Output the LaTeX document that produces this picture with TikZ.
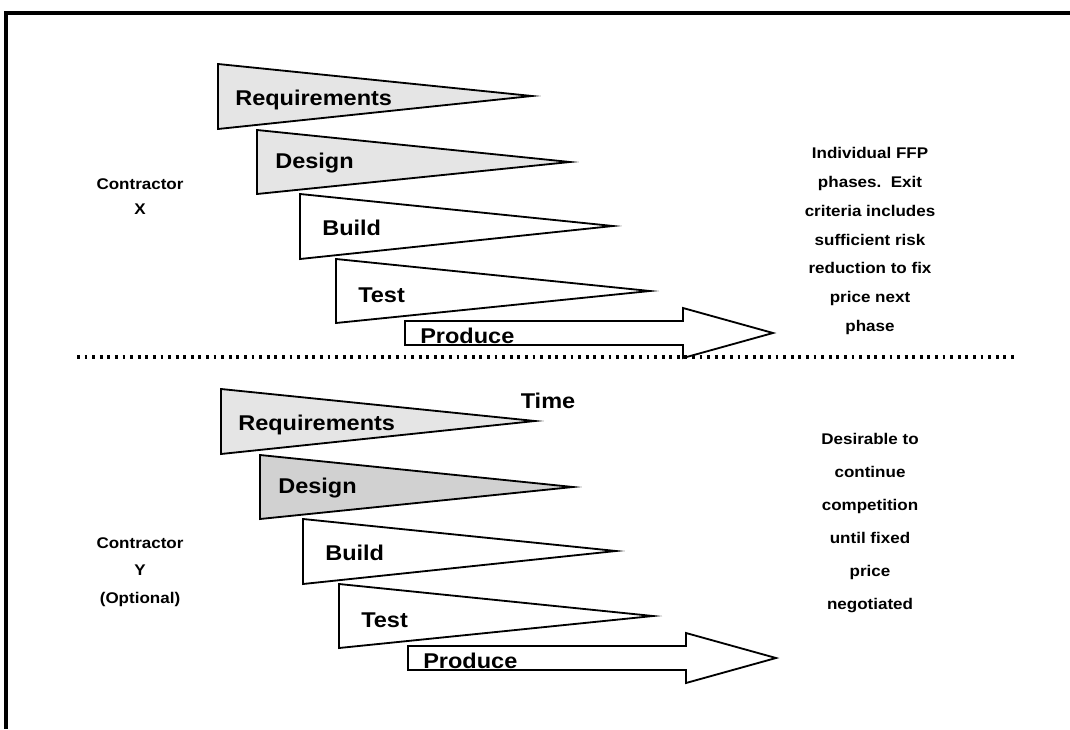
\documentclass[tikz,border=0pt]{standalone}
\usepackage{fontspec}
\setmainfont{Liberation Sans}[FakeStretch=1.1]

\begin{document}
\begin{tikzpicture}[x=0.025cm, y=-0.025cm,
	phase/.style={draw, line width=1.3pt, line join=miter, fill=white},
	shaded/.style={phase, fill=gray!20},
	darkshaded/.style={phase, fill=gray!36},
	lbl/.style={anchor=west, inner sep=0pt, font=\bfseries\fontsize{15.2}{17}\selectfont},
	note/.style={align=center, inner sep=0pt, font=\bfseries\fontsize{11}{20.4}\selectfont}]
\useasboundingbox (0,0) rectangle (1070,729);
\draw[line width=2.6pt] (1070,13) -- (6,13) -- (6,729);

\foreach \g/\dx/\dy/\dfill in {X/0/0/shaded, Y/3/325/darkshaded}{
	\begin{scope}[shift={(\dx,\dy)}]
	\draw[shaded] (218,64) -- (532,96) -- (218,129) -- cycle;
	\node[lbl] (req\g) at (235,100) {Requirements};
	\draw[\dfill] (257,130) -- (570,162) -- (257,194) -- cycle;
	\node[lbl] (des\g) at (275,163) {Design};
	\draw[phase] (300,194) -- (613,226) -- (300,259) -- cycle;
	\node[lbl] (bld\g) at (322,228) {Build};
	\draw[phase] (336,259) -- (650,291) -- (336,323) -- cycle;
	\node[lbl] (tst\g) at (358,295) {Test};
	\draw[phase] (405,321) -- (683,321) -- (683,308) -- (773,333) -- (683,358) -- (683,345) -- (405,345) -- cycle;
	\node[lbl] (prd\g) at (420,336) {Produce};
	\end{scope}
}

\draw[line width=2.2pt, dash pattern=on 2pt off 3.4pt] (77,357) -- (1015,357);

\node[lbl, anchor=center] (time) at (548,401) {Time};

\node[note, font=\bfseries\fontsize{11}{17.8}\selectfont] (ctrX) at (140,197) {Contractor\\X};
\node[note, font=\bfseries\fontsize{11}{19.6}\selectfont] (ctrY) at (140,572) {Contractor\\Y\\(Optional)};

\node[note] (noteX) at (870,241) {Individual FFP\\phases.\ \ Exit\\criteria includes\\sufficient risk\\reduction to fix\\price next\\phase};
\node[note, font=\bfseries\fontsize{11}{23.4}\selectfont] (noteY) at (870,523) {Desirable to\\continue\\competition\\until fixed\\price\\negotiated};
\end{tikzpicture}
\end{document}
